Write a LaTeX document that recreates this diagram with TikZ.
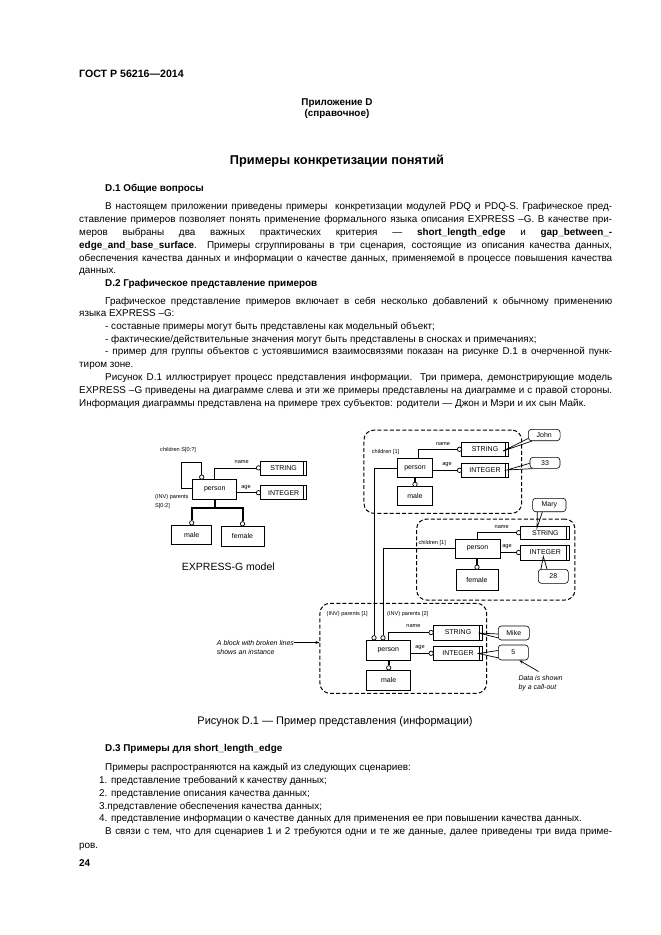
\documentclass[tikz,border=0pt]{standalone}
\usepackage{fontspec}
\setmainfont{Liberation Sans}
\usetikzlibrary{calc,arrows.meta}
\newlength\fullw \setlength\fullw{533pt}
\newlength\indw \setlength\indw{507pt}
\def\Lm{79}
\def\Im{105}
\begin{document}
\begin{tikzpicture}[x=1pt,y=-1pt,
  bt/.style={font=\fontsize{9.9}{12}\selectfont, anchor=base west, inner sep=0pt},
  bb/.style={font=\bfseries\fontsize{9.9}{12}\selectfont, anchor=base west, inner sep=0pt},
  ent/.style={draw, fill=white, line width=0.7pt, inner sep=0pt, font=\fontsize{7}{8}\selectfont},
  lbl/.style={font=\fontsize{5.6}{6}\selectfont, inner sep=0pt},
  ring/.style={draw, fill=white, circle, line width=0.7pt, minimum size=4.4pt, inner sep=0pt},
  ln/.style={line width=0.7pt},
  sub/.style={line width=2pt},
  inst/.style={draw, line width=1pt, dash pattern=on 4pt off 2.2pt, rounded corners=10pt},
  call/.style={draw, fill=white, line width=0.6pt, rounded corners=3pt, inner sep=0pt, font=\fontsize{7}{8}\selectfont},
  note/.style={font=\itshape\fontsize{7}{8}\selectfont, anchor=base west, inner sep=0pt},
  arr/.style={line width=0.7pt, -{Stealth[length=4pt,width=3pt]}}
]
\useasboundingbox (0,0) rectangle (661,935);

% ---------- header and text ----------
\node[bb, font=\bfseries\fontsize{10.6}{12}\selectfont] (hd) at (\Lm,77) {ГОСТ Р 56216—2014};
\node[bb, anchor=base] (ap1) at (337,105.5) {Приложение D};
\node[bb, anchor=base] (ap2) at (337,116.5) {(справочное)};
\node[bb, anchor=base, font=\bfseries\fontsize{12.8}{14}\selectfont] (ttl) at (337,164.5) {Примеры конкретизации понятий};

\node[bb] (h1) at (\Im,191.5) {D.1 Общие вопросы};
\node[bt] (l1) at (\Im,209.5) {\makebox[\indw][s]{В настоящем приложении приведены примеры\ \ конкретизации модулей PDQ и PDQ-S. Графическое пред-}};
\node[bt] (l2) at (\Lm,222.5) {\makebox[\fullw][s]{ставление примеров позволяет понять применение формального языка описания EXPRESS –G. В качестве при-}};
\node[bt] (l3) at (\Lm,235.5) {\makebox[\fullw][s]{меров выбраны два важных практических критерия — \textbf{short\_length\_edge} и \textbf{gap\_between\_-}}};
\node[bt] (l4) at (\Lm,248.5) {\makebox[\fullw][s]{\textbf{edge\_and\_base\_surface}. Примеры сгруппированы в три сценария, состоящие из описания качества данных,}};
\node[bt] (l5) at (\Lm,261.5) {\makebox[\fullw][s]{обеспечения качества данных и информации о качестве данных, применяемой в процессе повышения качества}};
\node[bt] (l6) at (\Lm,273.5) {данных.};

\node[bb] (h2) at (\Im,286.5) {D.2 Графическое представление примеров};
\node[bt] (m1) at (\Im,304.5) {\makebox[\indw][s]{Графическое представление примеров включает в себя несколько добавлений к обычному применению}};
\node[bt] (m2) at (\Lm,316.5) {языка EXPRESS –G:};
\node[bt] (m3) at (\Im,329.5) {- составные примеры могут быть представлены как модельный объект;};
\node[bt] (m4) at (\Im,342.5) {- фактические/действительные значения могут быть представлены в сносках и примечаниях;};
\node[bt] (m5) at (\Im,354.5) {\makebox[\indw][s]{- пример для группы объектов с устоявшимися взаимосвязями показан на рисунке D.1 в очерченной пунк-}};
\node[bt] (m6) at (\Lm,367.5) {тиром зоне.};
\node[bt] (m7) at (\Im,380.5) {\makebox[\indw][s]{Рисунок D.1 иллюстрирует процесс представления информации. Три примера, демонстрирующие модель}};
\node[bt] (m8) at (\Lm,393.5) {\makebox[\fullw][s]{EXPRESS –G приведены на диаграмме слева и эти же примеры представлены на диаграмме и с правой стороны.}};
\node[bt] (m9) at (\Lm,406.5) {Информация диаграммы представлена на примере трех субъектов: родители — Джон и Мэри и их сын Майк.};

\node[anchor=base, inner sep=0pt, font=\fontsize{11}{13}\selectfont] (cap) at (335,724) {Рисунок D.1 — Пример представления (информации)};

\node[bb] (h3) at (\Im,751.5) {D.3 Примеры для short\_length\_edge};
\node[bt] (q1) at (\Im,770.5) {Примеры распространяются на каждый из следующих сценариев:};
\node[bt] (q2) at (99,783.5) {1. представление требований к качеству данных;};
\node[bt] (q3) at (99,796.5) {2. представление описания качества данных;};
\node[bt] (q4) at (99,809.5) {3.представление обеспечения качества данных;};
\node[bt] (q5) at (99,821.5) {4. представление информации о качестве данных для применения ее при повышении качества данных.};
\node[bt] (q6) at (\Im,834.5) {\makebox[\indw][s]{В связи с тем, что для сценариев 1 и 2 требуются одни и те же данные, далее приведены три вида приме-}};
\node[bt] (q7) at (\Lm,848.5) {ров.};
\node[bb] (pg) at (\Lm,866) {24};

% ---------- left EXPRESS-G model ----------
\node[ent, minimum width=44pt, minimum height=20pt] (p0) at (214.7,489.3) {person};
\node[ent, minimum width=46pt, minimum height=14pt] (s0) at (283.7,467.9) {STRING};
\node[ent, minimum width=46pt, minimum height=14pt] (i0) at (283.7,492.7) {INTEGER};
\draw[ln] ([xshift=-3.5pt]s0.north east) -- ([xshift=-3.5pt]s0.south east);
\draw[ln] ([xshift=-3.5pt]i0.north east) -- ([xshift=-3.5pt]i0.south east);
\node[ring] (c01) at (258.5,467.9) {};
\draw[ln] (c01) -| (p0.north);
\node[lbl] (n0) at (241.7,462.5) {name};
\node[ring] (c02) at (258.5,492.7) {};
\draw[ln] (c02) -- (c02 -| p0.east);
\node[lbl] (a0) at (246,487.8) {age};
\node[ring] (c03) at (201.7,477.1) {};
\coordinate (lp1) at (181.7,488);
\coordinate (lp2) at (201.7,462.7);
\draw[ln] (p0.west |- lp1) -- (lp1) |- (lp2) -- (c03);
\node[lbl, anchor=west] (ch0) at (160,450) {children S[0:?]};
\node[lbl, anchor=west] (pa0) at (155,497) {(INV) parents};
\node[lbl, anchor=west] (pa0b) at (155,506) {S[0:2]};
\node[ent, minimum width=40pt, minimum height=19pt] (m0) at (191.7,534.5) {male};
\node[ent, minimum width=43pt, minimum height=20pt] (f0) at (242.5,536) {female};
\coordinate (tj) at (214.7,508.3);
\draw[sub] (p0.south) -- (tj);
\node[ring] (c04) at (191.7,522.8) {};
\node[ring] (c05) at (242.5,523.8) {};
\draw[sub] (c04) |- (tj) -| (c05);
\node[inner sep=0pt, font=\fontsize{10.5}{12}\selectfont] (em) at (228.3,566.7) {EXPRESS-G model};

% ---------- instance diagram ----------
\node[inst, minimum width=157.7pt, minimum height=83.3pt] (d1) at (442.8,471.7) {};
\node[inst, minimum width=158.3pt, minimum height=81pt] (d2) at (495.8,559.5) {};
\node[inst, minimum width=166.7pt, minimum height=90pt] (d3) at (403.3,648.3) {};

% John
\node[lbl, anchor=west] (ch1) at (371.7,452.3) {children [1]};
\node[ent, minimum width=35.5pt, minimum height=18.5pt] (p1) at (415,468) {person};
\node[ent, minimum width=46.6pt, minimum height=13.5pt] (s1) at (485,449.3) {STRING};
\node[ent, minimum width=46.6pt, minimum height=14pt] (i1) at (485,470.3) {INTEGER};
\draw[ln] ([xshift=-3.5pt]s1.north east) -- ([xshift=-3.5pt]s1.south east);
\draw[ln] ([xshift=-3.5pt]i1.north east) -- ([xshift=-3.5pt]i1.south east);
\node[ring] (c11) at (459.5,449.3) {};
\draw[ln] (c11) -| ([xshift=3.5pt]p1.north);
\node[lbl] (n1) at (443,444.5) {name};
\node[ring] (c12) at (459.5,470.3) {};
\draw[ln] (c12) -- (c12 -| p1.east);
\node[lbl] (a1) at (447,465) {age};
\node[ent, minimum width=35pt, minimum height=18.3pt] (m1) at (415,495.8) {male};
\node[ring] (c13) at (415,484.4) {};
\draw[sub] (p1.south) -- (c13);
\node[call, minimum width=31.7pt, minimum height=11.4pt] (cj) at (544.2,435) {John};
\coordinate (tjn) at (503,451);
\draw[ln] ([yshift=2.5pt]cj.south west) -- (tjn) -- ([xshift=4pt]cj.south west);
\node[call, minimum width=30pt, minimum height=11pt] (c33) at (545,462.8) {33};
\coordinate (t33) at (507,470);
\draw[ln] ([yshift=-0.5pt]c33.west) -- (t33) -- ([xshift=3pt]c33.south west);

% Mary
\node[lbl, anchor=west] (ch2) at (418.3,542.7) {children [1]};
\node[ent, minimum width=45pt, minimum height=19pt] (p2) at (477.5,548.5) {person};
\node[ent, minimum width=49pt, minimum height=13.5pt] (s2) at (545.3,532.7) {STRING};
\node[ent, minimum width=49pt, minimum height=15pt] (i2) at (545.3,552.5) {INTEGER};
\draw[ln] ([xshift=-3.5pt]s2.north east) -- ([xshift=-3.5pt]s2.south east);
\draw[ln] ([xshift=-3.5pt]i2.north east) -- ([xshift=-3.5pt]i2.south east);
\node[ring] (c21) at (518.6,532.7) {};
\draw[ln] (c21) -| (p2.north);
\node[lbl] (n2) at (501.7,527) {name};
\node[ring] (c22) at (518.6,552.5) {};
\draw[ln] (c22) -- (c22 -| p2.east);
\node[lbl] (a2) at (507,547) {age};
\node[ent, minimum width=42.3pt, minimum height=20.7pt] (f2) at (477,579.7) {female};
\node[ring] (c23) at (477,567.2) {};
\draw[sub] (c23 |- p2.south) -- (c23);
\node[call, minimum width=33.3pt, minimum height=13.4pt] (cmy) at (549.3,505) {Mary};
\coordinate (tmy) at (537,528);
\draw[ln] ([xshift=5pt]cmy.south west) -- (tmy) -- ([xshift=10pt]cmy.south west);
\node[call, minimum width=30pt, minimum height=14pt] (c28) at (553.3,576.3) {28};
\coordinate (t28) at (543.3,556.5);
\draw[ln] ([xshift=3pt]c28.north west) -- (t28) -- ([xshift=9pt]c28.north west);

% Mike
\node[lbl, anchor=west] (pa1) at (326.5,614) {(INV) parents [1]};
\node[lbl, anchor=west] (pa2) at (387,614) {(INV) parents [2]};
\node[ent, minimum width=44.7pt, minimum height=20pt] (p3) at (388.3,650) {person};
\node[ring] (c31) at (374,637.8) {};
\node[ring] (c32) at (383,637.8) {};
\draw[ln] (c31) |- (p1.west);
\draw[ln] (c32) |- (p2.west);
\node[ent, minimum width=49.4pt, minimum height=15pt] (s3) at (458,632.5) {STRING};
\node[ent, minimum width=49.4pt, minimum height=14.7pt] (i3) at (458,653.3) {INTEGER};
\draw[ln] ([xshift=-3.5pt]s3.north east) -- ([xshift=-3.5pt]s3.south east);
\draw[ln] ([xshift=-3.5pt]i3.north east) -- ([xshift=-3.5pt]i3.south east);
\node[ring] (c34) at (431.1,632.5) {};
\draw[ln] (c34) -| (p3.north);
\node[lbl] (n3) at (413.5,626.5) {name};
\node[ring] (c35) at (431.1,653.3) {};
\draw[ln] (c35) -- (c35 -| p3.east);
\node[lbl] (a3) at (420,648) {age};
\node[ent, minimum width=44pt, minimum height=20pt] (m3) at (388.7,680) {male};
\node[ring] (c36) at (388.7,667.8) {};
\draw[sub] (c36 |- p3.south) -- (c36);
\node[call, minimum width=31pt, minimum height=14pt] (ck) at (513.8,633) {Mike};
\coordinate (tmk) at (478.5,633);
\draw[ln] ([yshift=-1pt]ck.west) -- (tmk) -- ([yshift=2.5pt]ck.south west);
\node[call, minimum width=30pt, minimum height=15pt] (c5) at (513.3,652.5) {5};
\coordinate (t5) at (478.5,653.5);
\draw[ln] ([yshift=2pt]c5.west) -- (t5) -- ([yshift=2.5pt]c5.south west);

% notes
\node[note] (nb1) at (216.7,645) {A block with broken lines};
\node[note] (nb2) at (216.7,654) {shows an instance};
\draw[arr] (nb1.east) -- (d3.west |- nb1.east);
\node[note] (nd1) at (518.3,680) {Data is shown};
\node[note] (nd2) at (518.3,689) {by a call-out};
\coordinate (dt) at (538.5,671.5);
\draw[arr] (dt) -- ([xshift=6pt]c5.south);
\end{tikzpicture}
\end{document}
